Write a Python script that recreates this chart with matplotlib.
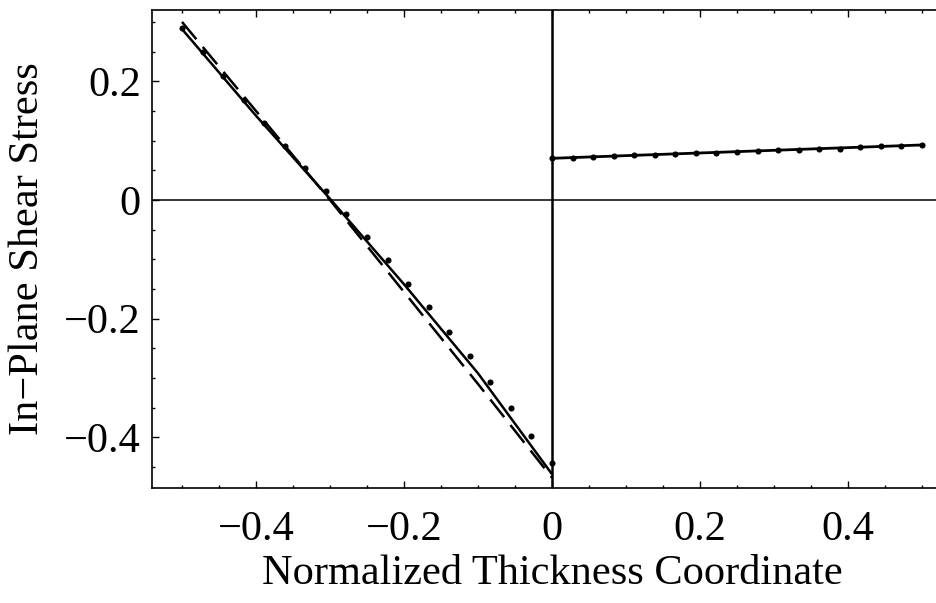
import numpy as np
import matplotlib
matplotlib.use("Agg")
import matplotlib.pyplot as plt
from matplotlib.ticker import FixedLocator, FixedFormatter

# ---- data ----
dots_left_x = np.linspace(-0.5, 0.0, 19)
dots_left_y = [0.289, 0.249, 0.209, 0.168, 0.130, 0.0915, 0.0534, 0.0152, -0.0231,
               -0.062, -0.101, -0.141, -0.181, -0.222, -0.263, -0.307, -0.351,
               -0.397, -0.444]
dots_right_x = np.linspace(0.0, 0.5, 19)
dots_right_y = [0.0702, 0.0712, 0.0725, 0.0741, 0.0753, 0.0764, 0.0780, 0.0787,
                0.0797, 0.0809, 0.0820, 0.0837, 0.0848, 0.0854, 0.0864, 0.0888,
                0.0904, 0.0914, 0.0927]

solid_x = [-0.5, -0.4, -0.3, -0.2, -0.1, 0.0]
solid_y = [0.288, 0.142, 0.002, -0.142, -0.292, -0.462]
dashed_x = [-0.5, -0.4, -0.3, -0.2, -0.1, 0.0]
dashed_y = [0.300, 0.150, 0.000, -0.155, -0.310, -0.468]
right_x = [0.0, 0.5]
right_y = [0.0702, 0.0927]

xticks = [-0.4, -0.2, 0.0, 0.2, 0.4]
xticklabels = ["\u22120.4", "\u22120.2", "0", "0.2", "0.4"]
yticks = [-0.4, -0.2, 0.0, 0.2]
yticklabels = ["\u22120.4", "\u22120.2", "0", "0.2"]
xminor = [-0.5, -0.45, -0.35, -0.3, -0.25, -0.15, -0.1, -0.05,
          0.05, 0.1, 0.15, 0.25, 0.3, 0.35, 0.45, 0.5]
yminor = [-0.45, -0.35, -0.3, -0.25, -0.15, -0.1, -0.05, 0.05, 0.1, 0.15, 0.25, 0.3]

xlabel = "Normalized Thickness Coordinate"
ylabel = "In\u2212Plane Shear Stress"

plt.rcParams['font.family'] = ['Liberation Serif', 'DejaVu Serif']

fig = plt.figure(figsize=(9.36, 6.03), dpi=100)
ax = fig.add_axes([152/936, 115/603, 800/936, 478/603])
ax.set_xlim(-0.5405, 0.5405)
ax.set_ylim(-0.4853, 0.3201)

# axes through origin
ax.axhline(0, color='black', lw=1.1, zorder=1)
ax.axvline(0, color='black', lw=1.8, zorder=1)

ax.plot(solid_x, solid_y, color='black', lw=1.8, solid_capstyle='butt')
ax.plot(dashed_x, dashed_y, color='black', lw=1.8, dashes=(9, 4))
ax.plot(right_x, right_y, color='black', lw=2.0)
ax.plot(dots_left_x, dots_left_y, 'o', color='black', ms=4.4, mew=0)
ax.plot(dots_right_x, dots_right_y, 'o', color='black', ms=4.4, mew=0)

ax.xaxis.set_major_locator(FixedLocator(xticks))
ax.xaxis.set_major_formatter(FixedFormatter(xticklabels))
ax.yaxis.set_major_locator(FixedLocator(yticks))
ax.yaxis.set_major_formatter(FixedFormatter(yticklabels))
ax.xaxis.set_minor_locator(FixedLocator(xminor))
ax.yaxis.set_minor_locator(FixedLocator(yminor))

ax.tick_params(which='both', direction='in', top=True, right=True, width=1.0)
ax.tick_params(which='major', length=5, labelsize=30.5)
ax.tick_params(which='minor', length=2.5)
ax.tick_params(axis='x', which='major', pad=16)
ax.tick_params(axis='y', which='major', pad=8)

for s in ax.spines.values():
    s.set_linewidth(1.2)

ax.set_xlabel(xlabel, fontsize=30.5, labelpad=4)
ax.set_ylabel(ylabel, fontsize=30.5, labelpad=12)

fig.savefig("out.png", dpi=100)
